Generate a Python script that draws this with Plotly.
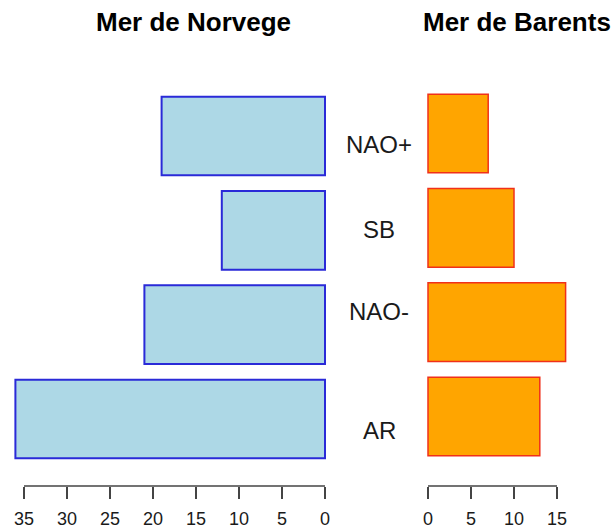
import plotly.graph_objects as go

# Weather regimes, bottom to top
regimes = ["AR", "NAO-", "SB", "NAO+"]
norvege = [36, 21, 12, 19]
barents = [13, 16, 10, 7]

ticks_norvege = [0, 5, 10, 15, 20, 25, 30, 35]
ticks_barents = [0, 5, 10, 15]

W, H = 615, 532
axis_y = 1 - 486 / H  # paper position of the two bottom axes

fig = go.Figure()

fig.add_trace(go.Bar(
    y=regimes, x=norvege, orientation="h",
    marker=dict(color="#ADD8E6", line=dict(color="#2a2ad8", width=2)),
    xaxis="x", yaxis="y", showlegend=False, hoverinfo="x+y",
))
fig.add_trace(go.Bar(
    y=regimes, x=barents, orientation="h",
    marker=dict(color="#FFA500", line=dict(color="#f0301a", width=1.5)),
    xaxis="x2", yaxis="y2", showlegend=False, hoverinfo="x+y",
))

tick_font = dict(family="Liberation Sans, Arial, sans-serif", size=18, color="#1a1a1a")
common_x = dict(
    anchor="free", position=axis_y, showgrid=False, zeroline=False,
    showline=False, ticks="outside", ticklen=12, tickwidth=1.5,
    tickcolor="#444", tickfont=tick_font, ticklabelstandoff=4, fixedrange=True,
)

fig.update_layout(
    width=W, height=H,
    margin=dict(l=0, r=0, t=0, b=0),
    paper_bgcolor="white", plot_bgcolor="white",
    bargap=1 - 1 / 1.2,
    xaxis=dict(domain=[10 / W, 335 / W], range=[(325 - 10) / 8.6, (325 - 335) / 8.6],
               tickvals=ticks_norvege, **common_x),
    xaxis2=dict(domain=[420 / W, 600 / W], range=[(420 - 428) / 8.6, (600 - 428) / 8.6],
                tickvals=ticks_barents, **common_x),
    yaxis=dict(domain=[0, 1], range=[(419 - H) / 94.33, 419 / 94.33],
               anchor="x", showticklabels=False, showgrid=False, zeroline=False,
               showline=False, ticks="", type="category", categoryorder="array",
               categoryarray=regimes),
    yaxis2=dict(domain=[0, 1], range=[(416.5 - H) / 94.33, 416.5 / 94.33],
                anchor="x2", showticklabels=False, showgrid=False, zeroline=False,
                showline=False, ticks="", type="category", categoryorder="array",
                categoryarray=regimes),
)

# Axis lines run only between the outermost ticks
for xr, tv in (("x", ticks_norvege), ("x2", ticks_barents)):
    fig.add_shape(type="line", xref=xr, yref="paper",
                  x0=min(tv), x1=max(tv), y0=axis_y, y1=axis_y,
                  line=dict(color="#444", width=1.5))

# Panel titles
title_font = dict(family="Liberation Sans, Arial, sans-serif", size=26, color="black")
for txt, xc in (("<b>Mer de Norvege</b>", 193), ("<b>Mer de Barents</b>", 517)):
    fig.add_annotation(text=txt, xref="paper", yref="paper",
                       x=xc / W, y=1 - 22 / H, showarrow=False,
                       xanchor="center", yanchor="middle", font=title_font)

# Regime names between the two panels
label_font = dict(family="Liberation Sans, Arial, sans-serif", size=24, color="#1a1a1a")
label_shift = {"AR": -11, "NAO-": 13, "SB": 1, "NAO+": -8}
for r in regimes:
    fig.add_annotation(text=r, xref="paper", yref="y", x=379 / W, y=r,
                       yshift=label_shift[r], showarrow=False,
                       xanchor="center", yanchor="middle", font=label_font)

fig.write_html("out.html")
